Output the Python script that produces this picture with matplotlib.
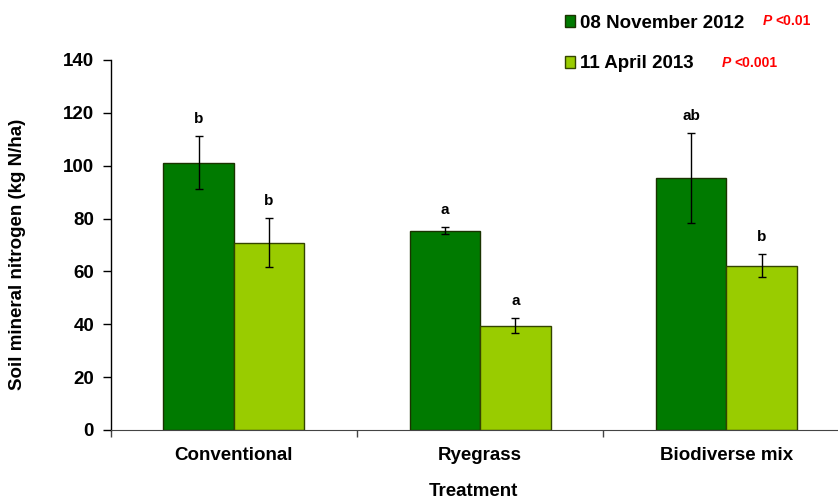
import numpy as np
import matplotlib
matplotlib.use("Agg")
import matplotlib.pyplot as plt
from matplotlib.patches import Patch

plt.rcParams['font.family'] = ['Liberation Sans', 'DejaVu Sans']
plt.rcParams['font.weight'] = 'bold'

treatments = ['Conventional', 'Ryegrass', 'Biodiverse mix']
nov_2012 = [101.2, 75.4, 95.3]
nov_2012_err = [10.0, 1.3, 17.0]
apr_2013 = [70.8, 39.5, 62.2]
apr_2013_err = [9.3, 2.7, 4.3]
nov_letters = ['b', 'a', 'ab']
apr_letters = ['b', 'a', 'b']
series_names = ['08 November 2012', '11 April 2013']
p_values = ['<0.01', '<0.001']

dark_green = '#007A00'
light_green = '#99CC00'

W, H = 838, 499
fig = plt.figure(figsize=(W / 100, H / 100), dpi=100)
# axes box in pixels: left spine at x=110.7, bottom at y=430, 140 at y=60
ax_w = 849.5 - 110.7
ax = fig.add_axes([110.7 / W, (H - 430) / H, ax_w / W, 370 / H])

x = np.arange(len(treatments))
bw = 0.286
b1 = ax.bar(x - bw / 2, nov_2012, bw, color=dark_green, edgecolor='#1a3300', linewidth=1.0)
b2 = ax.bar(x + bw / 2, apr_2013, bw, color=light_green, edgecolor='#334400', linewidth=1.0)
ax.errorbar(x - bw / 2, nov_2012, yerr=nov_2012_err, fmt='none', ecolor='black',
            elinewidth=1.0, capsize=3, capthick=1.0)
ax.errorbar(x + bw / 2, apr_2013, yerr=apr_2013_err, fmt='none', ecolor='black',
            elinewidth=1.0, capsize=3, capthick=1.0)

# significance letters above each error bar
for xi, v, e, s in zip(x - bw / 2, nov_2012, nov_2012_err, nov_letters):
    ax.text(xi, v + e + 4, s, ha='center', va='bottom', fontsize=11, fontweight='bold')
for xi, v, e, s in zip(x + bw / 2, apr_2013, apr_2013_err, apr_letters):
    ax.text(xi, v + e + 4, s, ha='center', va='bottom', fontsize=11, fontweight='bold')

ax.set_xlim(-0.5, 2.5)
ax.set_ylim(0, 140)
ax.set_yticks(range(0, 141, 20))
ax.tick_params(axis='y', labelsize=13.5, length=6, width=1, direction='out', pad=6)
ax.set_xticks(x)
ax.set_xticklabels(treatments, fontsize=13.5, fontweight='bold')
ax.tick_params(axis='x', which='major', length=0, pad=12)
ax.set_xticks([-0.5, 0.5, 1.5, 2.5], minor=True)
ax.tick_params(axis='x', which='minor', length=5, width=1, color='#444444')
for lab in ax.get_yticklabels():
    lab.set_fontweight('bold')

ax.spines['top'].set_visible(False)
ax.spines['right'].set_visible(False)
ax.spines['bottom'].set_color('#444444')
ax.spines['left'].set_linewidth(1.0)

ax.set_ylabel('Soil mineral nitrogen (kg N/ha)', fontsize=13.5, fontweight='bold')
ax.yaxis.set_label_coords(-(110.7 - 26) / ax_w, (430 - 254) / 370)
fig.text(473 / W, 1 - 492 / H, 'Treatment', ha='center', va='center', fontsize=13.5,
         fontweight='bold')

handles = [Patch(facecolor=dark_green, edgecolor='#1a3300'),
           Patch(facecolor=light_green, edgecolor='#334400')]
fig.legend(handles, series_names, loc='upper left', bbox_to_anchor=(557 / W, 1 - 7 / H),
           frameon=False, prop={'size': 13.5, 'weight': 'bold'}, handlelength=0.55,
           handleheight=0.6, handletextpad=0.3, labelspacing=1.28, borderaxespad=0)

p_pos = [(763, 21), (722, 63)]
for (px, py), pv in zip(p_pos, p_values):
    fig.text(px / W, 1 - py / H, 'P', color='red', fontsize=10, fontweight='bold',
             fontstyle='italic', va='center', ha='left')
    fig.text((px + 12) / W, 1 - py / H, pv, color='red', fontsize=10, fontweight='bold',
             va='center', ha='left')

fig.savefig('out.png', dpi=100)
